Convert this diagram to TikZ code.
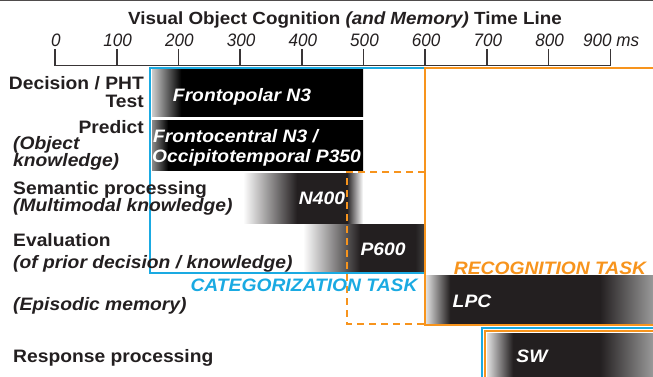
\documentclass[tikz,border=0pt]{standalone}
\usepackage{fontspec}
\setmainfont{Liberation Sans}[FakeStretch=1.07]
\newfontfamily\tickfont{Liberation Sans}[FakeStretch=0.95]
\definecolor{ink}{HTML}{231F20}
\definecolor{barblack}{HTML}{231F20}
\definecolor{catblue}{HTML}{1AAAE2}
\definecolor{recorange}{HTML}{F7941D}
\pgfdeclarehorizontalshading{barA}{100bp}{color(0bp)=(black!20); color(25bp)=(black!20); color(31.9bp)=(black); color(100bp)=(black)}
\pgfdeclarehorizontalshading{barB}{100bp}{color(0bp)=(black!45); color(25bp)=(black!45); color(28.8bp)=(black); color(100bp)=(black)}
\pgfdeclarehorizontalshading{barC}{100bp}{color(0bp)=(white); color(25bp)=(white); color(47.5bp)=(barblack); color(68.3bp)=(barblack); color(75bp)=(white); color(100bp)=(white)}
\pgfdeclarehorizontalshading{barD}{100bp}{color(0bp)=(white); color(25bp)=(white); color(48.4bp)=(barblack); color(71bp)=(barblack); color(75bp)=(black!75); color(100bp)=(black!75)}
\pgfdeclarehorizontalshading{barE}{100bp}{color(0bp)=(black!12); color(25bp)=(black!12); color(30.3bp)=(barblack); color(63.3bp)=(barblack); color(75bp)=(black!40); color(100bp)=(black!40)}
\pgfdeclarehorizontalshading{barF}{100bp}{color(0bp)=(black!12); color(25bp)=(black!12); color(32.8bp)=(barblack); color(59bp)=(barblack); color(75bp)=(black!40); color(100bp)=(black!40)}
\begin{document}
\begin{tikzpicture}[x=1pt,y=-1pt,
  lbl/.style={font=\fontsize{18}{20}\selectfont\bfseries, text=ink, inner sep=0pt},
  lbli/.style={font=\fontsize{18}{20}\selectfont\bfseries\itshape, text=ink, inner sep=0pt},
  barlbl/.style={font=\fontsize{18}{20}\selectfont\bfseries\itshape, text=white, inner sep=0pt},
  ticklbl/.style={font=\tickfont\fontsize{18}{20}\selectfont\itshape, text=ink, inner sep=0pt, anchor=base},
  axisline/.style={draw=ink!90, line width=1.6pt},
  catline/.style={draw=catblue, line width=2pt},
  recline/.style={draw=recorange, line width=2pt},
  recdash/.style={draw=recorange, line width=2pt, dash pattern=on 7pt off 5pt},
]
\useasboundingbox (0,0) rectangle (653,377);
% top border
\draw[ink!80, line width=1.2pt] (0,0.8) -- (653,0.8);
% title
\node[font=\fontsize{17.6}{20}\selectfont\bfseries, text=ink, inner sep=0pt] (title) at (345,20)
  {Visual Object Cognition \textit{(and Memory)} Time Line};
% axis
\foreach \t in {0,100,...,900}{
  \coordinate (t\t) at ({55+0.617*\t},65.5);
  \coordinate (u\t) at ({55+0.617*\t},49);
  \draw[axisline] (u\t) -- (t\t);
}
\draw[axisline, line cap=rect] (t0) -- (t900);
\foreach \t in {0,100,...,800}{
  \node[ticklbl] (l\t) at ({56+0.617*\t},46.5) {\t};
}
\node[ticklbl, anchor=base west] (l900) at (583,46.5) {900 ms};
% bars
\shade[shading=barA] (152,69) rectangle (363,117);
\shade[shading=barB] (152,121) rectangle (363,170);
\shade[shading=barC] (243,173) rectangle (363,223);
\shade[shading=barD] (303,224) rectangle (425,272);
\shade[shading=barE] (426,275) rectangle (653,324);
\shade[shading=barF] (487,333) rectangle (653,377);
% bar labels
\node[barlbl] (fp) at (242,97) {Frontopolar N3};
\node[barlbl, anchor=mid west] (fc) at (153,140) {Frontocentral N3 /};
\node[barlbl, anchor=mid west] (ot) at (152,160) {Occipitotemporal P350};
\node[barlbl] (n400) at (322,198) {N400};
\node[barlbl] (p600) at (383,249) {P600};
\node[barlbl] (lpc) at (472,301) {LPC};
\node[barlbl] (sw) at (532,356) {SW};
% boxes
\draw[recdash] (425,172) -- (347,172) -- (347,324) -- (425,324);
\draw[catline] (150,68) rectangle (425,273);
\draw[recline] (654,68) -- (425,68) -- (425,325) -- (654,325);
\draw[catline] (654,328) -- (482,328) -- (482,378);
\draw[recline] (654,331) -- (485,331) -- (485,378);
\node[font=\fontsize{18}{20}\selectfont\bfseries\itshape, text=catblue, inner sep=0pt] (cat) at (304,285) {CATEGORIZATION TASK};
\node[font=\fontsize{18}{20}\selectfont\bfseries\itshape, text=recorange, inner sep=0pt] (rec) at (550,268) {RECOGNITION TASK};
% left labels
\node[lbl, anchor=mid east] (dec) at (144,87) {Decision / PHT};
\node[lbl, anchor=mid east] (test) at (144,105) {Test};
\node[lbl, anchor=mid east] (pred) at (144,131) {Predict};
\node[lbli, anchor=mid west] (obj) at (13,147) {(Object};
\node[lbli, anchor=mid west] (know) at (13,164) {knowledge)};
\node[lbl, anchor=mid west] (sem) at (13,192) {Semantic processing};
\node[lbli, anchor=mid west] (multi) at (13,209) {(Multimodal knowledge)};
\node[lbl, anchor=mid west] (eval) at (13,244) {Evaluation};
\node[lbli, anchor=mid west] (prior) at (13,266) {(of prior decision / knowledge)};
\node[lbli, anchor=mid west] (epi) at (13,308) {(Episodic memory)};
\node[lbl, anchor=mid west] (resp) at (13,360) {Response processing};
\end{tikzpicture}
\end{document}
